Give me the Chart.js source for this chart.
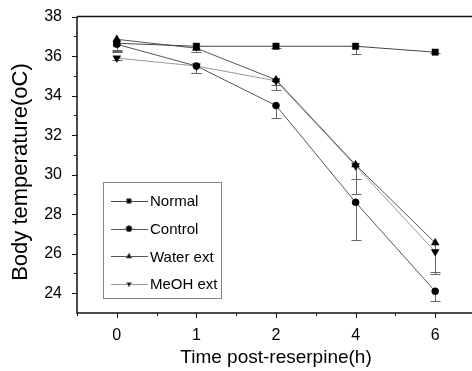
<!DOCTYPE html>
<html>
<head>
<meta charset="utf-8">
<script src="https://cdn.jsdelivr.net/npm/chart.js@4.4.0/dist/chart.umd.min.js"></script>
<style>
  html, body { margin: 0; padding: 0; background: #fff; overflow: hidden; }
  #wrap { width: 480px; height: 371px; }
</style>
</head>
<body>
<div id="wrap"><canvas id="chart" width="480" height="371"></canvas></div>
<script>
// hours after reserpine
const times = ["0", "1", "2", "4", "6"];
const groups = ["Normal", "Control", "Water ext", "MeOH ext"];

// mean body temperature (oC)
const normal = [36.65, 36.5, 36.5, 36.5, 36.2];
const control = [36.6, 35.5, 33.5, 28.6, 24.1];
const waterExt = [36.85, 36.4, 34.8, 30.5, 26.55];
const meohExt = [35.9, 35.5, 34.75, 30.45, 26.1];

// lower error (SE)
const normalErr = [0.35, 0.3, 0.1, 0.4, 0.05];
const controlErr = [0.4, 0.35, 0.65, 1.9, 0.5];
const waterErr = [0.6, 0.2, 0.5, 0.7, 1.5];
const meohErr = [0.1, 0.35, 0.2, 1.45, 1.15];

const yTicks = [24, 26, 28, 30, 32, 34, 36, 38];

const errors = [normalErr, controlErr, waterErr, meohErr];

const FONT = "'Liberation Sans', Arial, sans-serif";
const Y_TITLE = "Body temperature(oC)";

const errorBars = {
  id: "errorBars",
  beforeDatasetsDraw(chart) {
    const { ctx, scales: { x, y } } = chart;
    ctx.save();
    ctx.strokeStyle = "#666";
    ctx.lineWidth = 1;
    chart.data.datasets.forEach((ds, i) => {
      ds.data.forEach((v, j) => {
        const px = Math.round(x.getPixelForValue(j)) + 0.5;
        const y0 = y.getPixelForValue(v);
        const y1 = Math.round(y.getPixelForValue(v - errors[i][j])) + 0.5;
        ctx.beginPath();
        ctx.moveTo(px, y0);
        ctx.lineTo(px, y1);
        ctx.moveTo(px - 5, y1);
        ctx.lineTo(px + 5, y1);
        ctx.stroke();
      });
    });
    ctx.restore();
  }
};

const frame = {
  id: "frame",
  afterDraw(chart) {
    const { ctx, chartArea: a, scales: { x, y } } = chart;
    ctx.save();
    ctx.strokeStyle = "#111";
    ctx.lineWidth = 1.5;
    ctx.beginPath();
    ctx.moveTo(a.left, a.top);
    ctx.lineTo(chart.width, a.top);
    ctx.moveTo(a.left, a.top);
    ctx.lineTo(a.left, a.bottom);
    ctx.lineTo(chart.width, a.bottom);
    ctx.stroke();
    ctx.lineWidth = 1;
    ctx.beginPath();
    // y ticks, major at labels, minor in between
    for (let v = 24; v <= 38; v++) {
      const py = Math.round(y.getPixelForValue(v)) + 0.5;
      const len = v % 2 === 0 ? 5 : 3;
      ctx.moveTo(a.left - len, py);
      ctx.lineTo(a.left, py);
    }
    // x ticks
    const n = times.length;
    for (let j = 0; j < n; j++) {
      const px = Math.round(x.getPixelForValue(j)) + 0.5;
      ctx.moveTo(px, a.bottom);
      ctx.lineTo(px, a.bottom + 5);
    }
    for (let j = -1; j < n; j++) {
      const px = Math.round((x.getPixelForValue(j) + x.getPixelForValue(j + 1)) / 2) + 0.5;
      if (px < a.left - 1) continue;
      ctx.moveTo(px, a.bottom);
      ctx.lineTo(px, a.bottom + 3);
    }
    ctx.stroke();

    // y axis title
    ctx.translate(21, 172);
    ctx.rotate(-Math.PI / 2);
    ctx.font = "22px " + FONT;
    ctx.fillStyle = "#000";
    ctx.textAlign = "center";
    ctx.textBaseline = "middle";
    ctx.fillText(Y_TITLE, 0, 0);
    ctx.restore();
  }
};

const boxLegend = {
  id: "boxLegend",
  afterDraw(chart) {
    const { ctx } = chart;
    const bx = 103, by = 182, bw = 118, bh = 116;
    ctx.save();
    ctx.strokeStyle = "#888";
    ctx.lineWidth = 1;
    ctx.strokeRect(bx + 0.5, by + 0.5, bw, bh);
    ctx.font = "15px " + FONT;
    ctx.fillStyle = "#000";
    ctx.textBaseline = "middle";
    chart.data.datasets.forEach((ds, i) => {
      const cy = by + 19 + i * 27.7;
      ctx.strokeStyle = ds.borderColor;
      ctx.beginPath();
      ctx.moveTo(bx + 8, Math.round(cy) + 0.5);
      ctx.lineTo(bx + 45, Math.round(cy) + 0.5);
      ctx.stroke();
      Chart.helpers.drawPoint(ctx, {
        pointStyle: ds.pointStyle,
        radius: 3,
        rotation: ds.rotation || 0,
        borderWidth: 1
      }, bx + 26, cy);
      ctx.fillStyle = "#000";
      ctx.fillText(ds.label, bx + 47, cy + 1);
    });
    ctx.restore();
  }
};

function series(label, data, style, line, rotation) {
  return {
    label: label,
    data: data,
    borderColor: line,
    borderWidth: 1,
    pointStyle: style,
    rotation: rotation || 0,
    pointRadius: style === "circle" ? 3.5 : 4.5,
    pointBackgroundColor: "#000",
    pointBorderColor: "#000",
    pointBorderWidth: 0.5,
    tension: 0
  };
}

new Chart(document.getElementById("chart"), {
  type: "line",
  data: {
    labels: times,
    datasets: [
      series(groups[0], normal, "rect", "#444"),
      series(groups[1], control, "circle", "#555"),
      series(groups[2], waterExt, "triangle", "#555"),
      series(groups[3], meohExt, "triangle", "#999", 180)
    ]
  },
  options: {
    responsive: false,
    animation: false,
    layout: { padding: { top: 14, right: 3, left: 0, bottom: 0 } },
    plugins: { legend: { display: false }, tooltip: { enabled: false } },
    scales: {
      x: {
        type: "category",
        offset: true,
        grid: { display: false },
        border: { display: false },
        ticks: { color: "#000", font: { family: FONT, size: 16 }, padding: 5, maxRotation: 0 },
        title: {
          display: true,
          text: "Time post-reserpine(h)",
          color: "#000",
          font: { family: FONT, size: 19 },
          padding: { top: 0, bottom: 2 }
        },
        afterFit(scale) { scale.height = 58; }
      },
      y: {
        min: 23,
        max: 38,
        grid: { display: false },
        border: { display: false },
        afterBuildTicks(scale) { scale.ticks = yTicks.map(v => ({ value: v })); },
        ticks: { color: "#000", font: { family: FONT, size: 16 }, padding: 7 },
        afterFit(scale) { scale.width = 77; }
      }
    }
  },
  plugins: [errorBars, frame, boxLegend]
});
</script>
</body>
</html>
